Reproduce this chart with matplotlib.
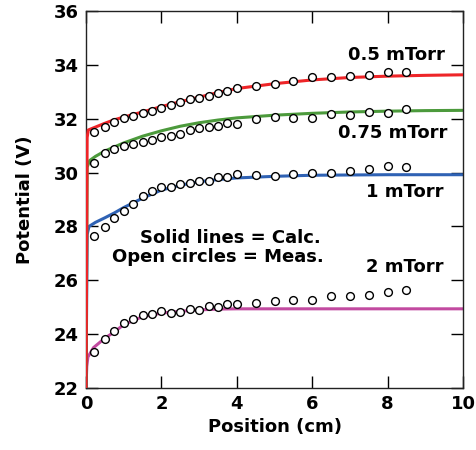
import matplotlib
matplotlib.use('Agg')
from matplotlib import pyplot as plt
from matplotlib.ticker import MultipleLocator

plt.rcParams['font.family'] = ['DejaVu Sans']
plt.rcParams['font.weight'] = 'bold'

# measured points (open circles)
xMeas = [0.2, 0.5, 0.75, 1.0, 1.25, 1.5, 1.75, 2.0, 2.25, 2.5, 2.75, 3.0, 3.25, 3.5,
         3.75, 4.0, 4.5, 5.0, 5.5, 6.0, 6.5, 7.0, 7.5, 8.0, 8.5]
meas05 = [31.50, 31.70, 31.87, 32.02, 32.10, 32.20, 32.29, 32.41, 32.51, 32.61, 32.73,
          32.78, 32.84, 32.94, 33.03, 33.15, 33.22, 33.30, 33.39, 33.54, 33.54, 33.59,
          33.63, 33.72, 33.72]
meas075 = [30.34, 30.72, 30.88, 30.97, 31.05, 31.15, 31.21, 31.33, 31.36, 31.43, 31.58,
           31.64, 31.70, 31.73, 31.85, 31.82, 31.98, 32.05, 32.02, 32.04, 32.18, 32.14,
           32.25, 32.20, 32.35]
meas1 = [27.65, 27.97, 28.30, 28.58, 28.82, 29.14, 29.32, 29.45, 29.48, 29.56, 29.60,
         29.69, 29.70, 29.82, 29.85, 29.94, 29.91, 29.87, 29.94, 29.97, 29.97, 30.06,
         30.12, 30.24, 30.22]
meas2 = [23.33, 23.81, 24.13, 24.40, 24.56, 24.71, 24.74, 24.87, 24.80, 24.81, 24.93,
         24.90, 25.05, 25.02, 25.11, 25.11, 25.17, 25.23, 25.27, 25.27, 25.42, 25.42,
         25.44, 25.57, 25.64]

# calculated curves (solid lines)
xCalc05 = [0, 0.03, 0.06, 0.2, 0.5, 0.75, 1, 1.5, 2, 2.5, 3, 3.5, 4, 5, 6, 7, 8, 9, 10]
calc05 = [22, 31.3, 31.58, 31.66, 31.83, 31.96, 32.06, 32.25, 32.45, 32.63, 32.8,
          32.97, 33.12, 33.3, 33.44, 33.53, 33.58, 33.61, 33.63]
xCalc075 = [0, 0.03, 0.1, 0.25, 0.5, 1, 1.5, 2, 2.5, 3, 3.5, 4, 5, 6, 7, 8, 9, 10]
calc075 = [22, 30.2, 30.45, 30.6, 30.8, 31.1, 31.35, 31.55, 31.72, 31.85, 31.95, 32.03,
           32.13, 32.2, 32.25, 32.28, 32.3, 32.31]
xCalc1 = [0, 0.03, 0.08, 0.25, 0.5, 0.75, 1, 1.5, 2, 2.5, 3, 3.5, 4, 5, 6, 8, 10]
calc1 = [22, 27.7, 28.0, 28.15, 28.32, 28.5, 28.7, 29.05, 29.35, 29.53, 29.66, 29.74,
         29.8, 29.86, 29.9, 29.92, 29.92]
xCalc2 = [0, 0.02, 0.05, 0.2, 0.5, 0.75, 1, 1.5, 2, 2.5, 3, 3.5, 4, 10]
calc2 = [22, 22.8, 23.15, 23.5, 23.85, 24.08, 24.35, 24.65, 24.78, 24.85, 24.9, 24.93,
         24.94, 24.94]

fig = plt.figure(figsize=(4.76, 4.5), dpi=100)
ax = fig.add_axes([0.1807, 0.1378, 0.792, 0.8378])

ax.plot(xCalc2, calc2, color='#c24aa0', lw=2.2, zorder=2)
ax.plot(xCalc1, calc1, color='#2f62b4', lw=2.2, zorder=2)
ax.plot(xCalc075, calc075, color='#4c9a3c', lw=2.2, zorder=2)
ax.plot(xCalc05, calc05, color='#ee2528', lw=2.2, zorder=3)

for meas in [meas05, meas075, meas1, meas2]:
    ax.plot(xMeas, meas, 'o', ms=5.6, mfc='white', mec='black', mew=1.0, zorder=4)

ax.text(9.52, 34.37, '0.5 mTorr', ha='right', va='center', fontsize=13, fontweight='bold')
ax.text(9.58, 31.47, '0.75 mTorr', ha='right', va='center', fontsize=13, fontweight='bold')
ax.text(9.47, 29.28, '1 mTorr', ha='right', va='center', fontsize=13, fontweight='bold')
ax.text(9.47, 26.49, '2 mTorr', ha='right', va='center', fontsize=13, fontweight='bold')
ax.text(3.82, 27.57, 'Solid lines = Calc.', ha='center', va='center', fontsize=13, fontweight='bold')
ax.text(3.5, 26.87, 'Open circles = Meas.', ha='center', va='center', fontsize=13, fontweight='bold')

ax.set_xlim(0, 10)
ax.set_ylim(22, 36)
ax.xaxis.set_major_locator(MultipleLocator(2))
ax.yaxis.set_major_locator(MultipleLocator(2))
ax.tick_params(direction='in', length=8.5, width=1, top=True, right=True,
               labelsize=13, pad=5)
for lab in ax.get_xticklabels() + ax.get_yticklabels():
    lab.set_fontweight('bold')
for sp in ax.spines.values():
    sp.set_linewidth(1)
    sp.set_color('#222222')

ax.set_xlabel('Position (cm)', fontsize=13, fontweight='bold', labelpad=4)
ax.set_ylabel('Potential (V)', fontsize=13, fontweight='bold', labelpad=14)

fig.savefig('out.png', dpi=100)
